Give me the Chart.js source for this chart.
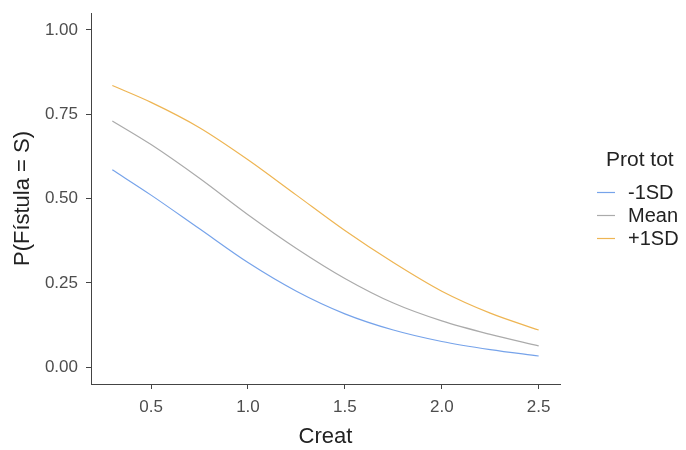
<!DOCTYPE html>
<html><head><meta charset="utf-8">
<script src="https://cdn.jsdelivr.net/npm/chart.js@4/dist/chart.umd.min.js"></script>
<style>html,body{margin:0;padding:0;background:#fff}#wrap{width:686px;height:450px;position:relative}</style>
</head><body><div id="wrap"><canvas id="c"></canvas></div>
<script>
const creat = [0.3, 0.5, 0.75, 1.0, 1.25, 1.5, 1.75, 2.0, 2.25, 2.5];
const minus1SD = [0.585, 0.51, 0.41, 0.31, 0.225, 0.158, 0.11, 0.076, 0.052, 0.033];
const meanVals = [0.73, 0.66, 0.56, 0.452, 0.352, 0.263, 0.19, 0.137, 0.097, 0.063];
const plus1SD = [0.835, 0.785, 0.71, 0.615, 0.51, 0.405, 0.31, 0.225, 0.16, 0.11];
const seriesLabels = ['-1SD', 'Mean', '+1SD'];
const seriesColors = ['#76A3EA', '#ABABAB', '#EEB553'];
const xTickValues = [0.5, 1.0, 1.5, 2.0, 2.5];
const yTickValues = [0, 0.25, 0.5, 0.75, 1.0];
const legendTitle = 'Prot tot';
const xTitle = 'Creat';
const yTitle = 'P(Fístula = S)';

const FONT = "'Liberation Sans', Arial, sans-serif";
const toPts = vals => creat.map((x, i) => ({x: x, y: vals[i]}));

const legendPlugin = {
  id: 'sideLegend',
  afterDraw(chart) {
    const ctx = chart.ctx;
    ctx.save();
    ctx.fillStyle = '#222';
    ctx.textBaseline = 'middle';
    ctx.textAlign = 'left';
    ctx.font = '21px ' + FONT;
    ctx.fillText(legendTitle, 606, 160);
    const rows = [192, 215, 238];
    ctx.font = '20px ' + FONT;
    chart.data.datasets.forEach((ds, i) => {
      ctx.strokeStyle = ds.borderColor;
      ctx.lineWidth = 1.2;
      ctx.beginPath();
      ctx.moveTo(597, rows[i] + 0.5);
      ctx.lineTo(615, rows[i] + 0.5);
      ctx.stroke();
      ctx.fillStyle = '#222';
      ctx.fillText(ds.label, 628, rows[i] + 1);
    });
    ctx.restore();
  }
};

new Chart(document.getElementById('c'), {
  type: 'line',
  data: {
    datasets: [
      {label: seriesLabels[0], data: toPts(minus1SD), borderColor: seriesColors[0]},
      {label: seriesLabels[1], data: toPts(meanVals), borderColor: seriesColors[1]},
      {label: seriesLabels[2], data: toPts(plus1SD), borderColor: seriesColors[2]}
    ]
  },
  options: {
    responsive: true,
    maintainAspectRatio: false,
    animation: false,
    layout: {padding: {top: 13, right: 126, left: 0, bottom: 0}},
    elements: {
      point: {radius: 0},
      line: {borderWidth: 1.2, cubicInterpolationMode: 'monotone', fill: false}
    },
    plugins: {legend: {display: false}, tooltip: {enabled: false}},
    scales: {
      x: {
        type: 'linear',
        min: 0.19, max: 2.61,
        afterBuildTicks: s => { s.ticks = xTickValues.map(v => ({value: v})); },
        afterFit: s => { s.height = 66; s.paddingLeft = 0; s.paddingRight = 0; },
        grid: {display: true, drawOnChartArea: false, drawTicks: true, tickLength: 5, color: '#444', lineWidth: 1},
        border: {display: true, color: '#444', width: 1},
        ticks: {color: '#4D4D4D', padding: 8, font: {family: FONT, size: 17}, maxRotation: 0,
          callback: v => Number(v).toFixed(1)},
        title: {display: true, text: xTitle, color: '#222', font: {family: FONT, size: 22}, padding: {top: 0, bottom: 0}}
      },
      y: {
        type: 'linear',
        min: -0.05, max: 1.05,
        afterBuildTicks: s => { s.ticks = yTickValues.map(v => ({value: v})); },
        afterFit: s => { s.width = 91; s.paddingTop = 0; s.paddingBottom = 0; },
        grid: {display: true, drawOnChartArea: false, drawTicks: true, tickLength: 5, color: '#444', lineWidth: 1},
        border: {display: true, color: '#444', width: 1},
        ticks: {color: '#4D4D4D', padding: 8, font: {family: FONT, size: 17},
          callback: v => Number(v).toFixed(2)},
        title: {display: true, text: yTitle, color: '#222', font: {family: FONT, size: 22}, padding: {top: 10, bottom: 0}}
      }
    }
  },
  plugins: [legendPlugin]
});
</script>
</body></html>
